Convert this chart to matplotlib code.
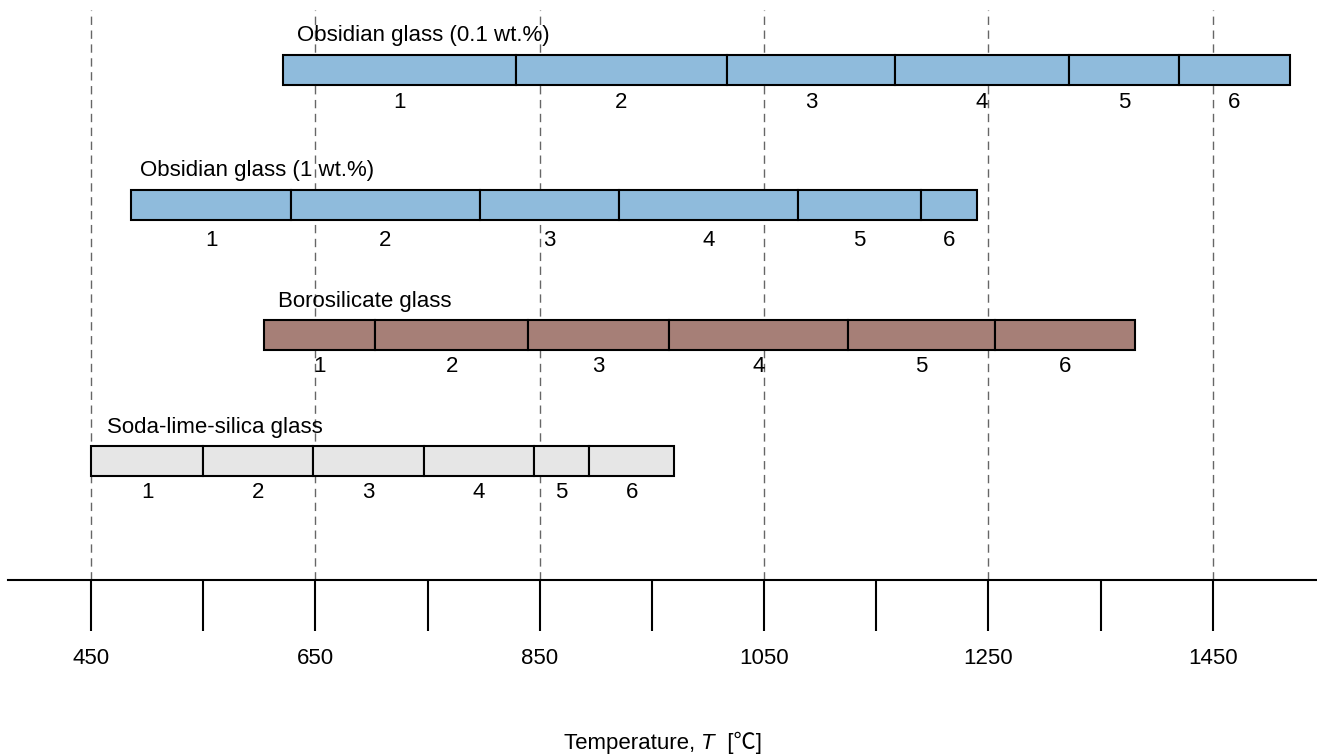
import matplotlib.pyplot as plt
from matplotlib.ticker import FixedLocator
from matplotlib.offsetbox import TextArea, HPacker, AnchoredOffsetbox

plt.rcParams['font.family'] = ['Liberation Sans', 'Noto Sans CJK SC', 'DejaVu Sans']

# glass types, top to bottom
glasses = ["Obsidian glass (0.1 wt.%)",
           "Obsidian glass (1 wt.%)",
           "Borosilicate glass",
           "Soda-lime-silica glass"]
colors = ["#8fbbdc", "#8fbbdc", "#a67f77", "#e6e6e6"]

# boundaries of the six stages, in degC
edges = [[621, 829, 1017, 1167, 1322, 1420, 1519],
         [486, 628, 797, 921, 1080, 1190, 1240],
         [604, 703, 840, 965, 1125, 1256, 1381],
         [450, 550, 648, 747, 845, 894, 970]]
stages = ["1", "2", "3", "4", "5", "6"]

major = [450, 650, 850, 1050, 1250, 1450]
minor = [550, 750, 950, 1150, 1350]

fig = plt.figure(figsize=(13.17, 7.56), dpi=100)
ax = fig.add_axes([8 / 1317, 176 / 756, 1309 / 1317, 580 / 756])
ax.set_xlim(376, 1543)
ax.set_ylim(580, 0)

rows = [70, 204.5, 335, 461]  # bar centres (pixel rows)
title_dx = [13, 8, 13, 14]
num_dy = [32, 36, 32, 31]
for name, col, e, y, dx, dy in zip(glasses, colors, edges, rows, title_dx, num_dy):
    lefts = e[:-1]
    widths = [b - a for a, b in zip(e[:-1], e[1:])]
    ax.barh(y, widths, left=lefts, height=30, color=col,
            edgecolor="black", linewidth=1.5, zorder=3)
    ax.text(e[0] + dx, y - 34, name, fontsize=16, ha="left", va="center")
    for a, b, s in zip(e[:-1], e[1:], stages):
        ax.text((a + b) / 2, y + dy, s, fontsize=16, ha="center", va="center")

for t in major:
    ax.axvline(t, ymin=0, ymax=0.983, color="#666666", lw=1,
               ls=(0, (6, 4)), zorder=1)

for s in ["top", "left", "right"]:
    ax.spines[s].set_visible(False)
ax.spines["bottom"].set_linewidth(1.5)
ax.set_yticks([])
ax.xaxis.set_major_locator(FixedLocator(major))
ax.xaxis.set_minor_locator(FixedLocator(minor))
ax.tick_params(axis="x", which="both", direction="out", length=37,
               width=1.5, labelsize=16, pad=12)

# x label: plain + italic T + degree Celsius sign
parts = [TextArea("Temperature, ", textprops=dict(fontsize=16)),
         TextArea("T", textprops=dict(fontsize=16, style="italic")),
         TextArea("  [℃]", textprops=dict(fontsize=16))]
box = HPacker(children=parts, align="baseline", pad=0, sep=0)
anch = AnchoredOffsetbox(loc="center", child=box, frameon=False,
                         bbox_to_anchor=(663 / 1317, 1 - 743 / 756),
                         bbox_transform=fig.transFigure, borderpad=0, pad=0)
fig.add_artist(anch)

fig.savefig("out.png", dpi=100)
